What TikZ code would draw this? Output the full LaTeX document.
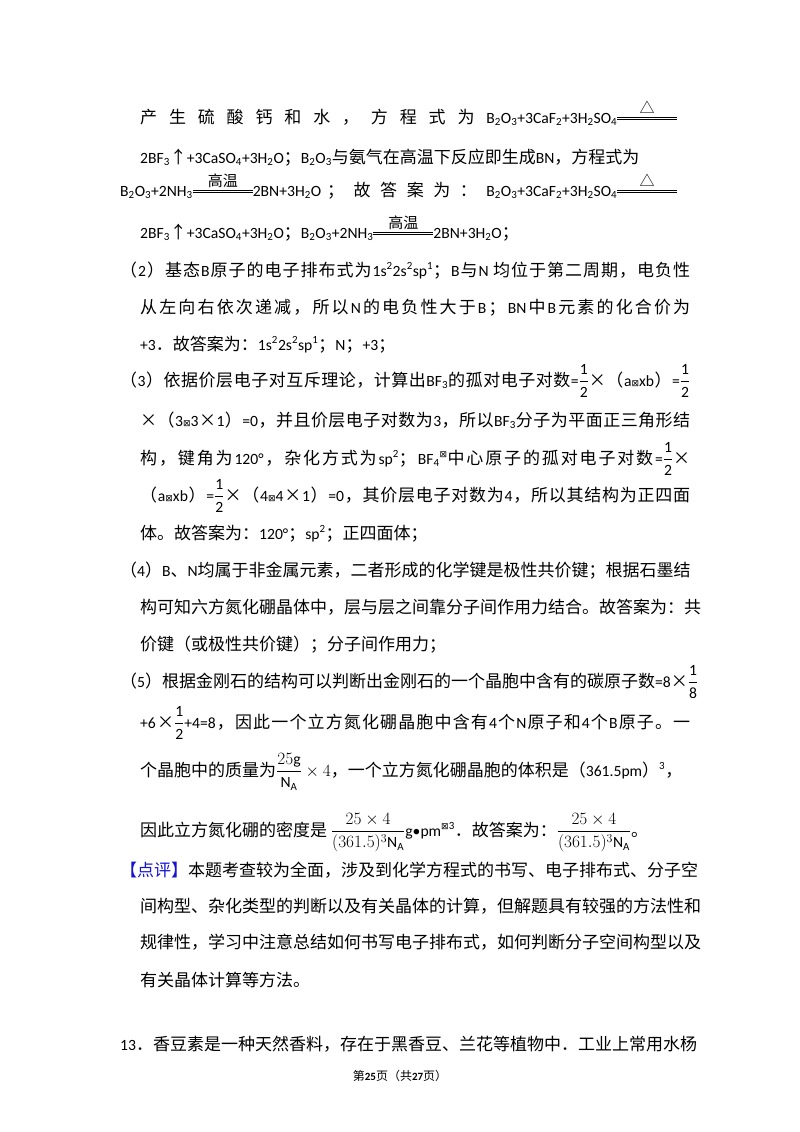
\documentclass[tikz,border=0pt]{standalone}
\usepackage{amsmath}
\usepackage{fontspec}
\setmainfont{Carlito}[Scale=0.92]
\newfontfamily\cjkf{Noto Sans CJK SC}
\newfontfamily\dvf{DejaVu Sans}
\newXeTeXintercharclass\cjkcls
\newXeTeXintercharclass\symcls
\newcount\cc
\newcommand\setcls[2]{\cc=#1 \loop\XeTeXcharclass\cc=\cjkcls \ifnum\cc<#2 \advance\cc by 1 \repeat}
\setcls{"3000}{"303F}
\setcls{"4E00}{"9FFF}
\setcls{"FF00}{"FFEF}
\XeTeXcharclass"00D7=\cjkcls
\XeTeXcharclass"2191=\cjkcls
\XeTeXcharclass"25B3=\cjkcls
\XeTeXcharclass"22A0=\symcls
\XeTeXinterchartoks 0 \cjkcls={\hskip0pt plus 2pt\cjkf}
\XeTeXinterchartoks 4095 \cjkcls={\cjkf}
\XeTeXinterchartoks \cjkcls \cjkcls={\hskip0pt plus 2pt}
\XeTeXinterchartoks \cjkcls 0={\hskip0pt plus 2pt\rmfamily}
\XeTeXinterchartoks 4095 0={\rmfamily}
\XeTeXinterchartokenstate=1
\newcommand\s[1]{\textsubscript{#1}}
\newcommand\su[1]{\textsuperscript{#1}}
\newcommand\bx{{\dvf\fontsize{9}{9}\selectfont ⊠}}
\newcommand\dbl[1]{\raisebox{3pt}{\vbox{\hrule width #1 height .8pt\vskip1.6pt\hrule width #1 height .8pt}}}
\newcommand\condeq[2]{$\overset{\text{\fontsize{15}{15}\selectfont #1}}{\dbl{#2}}$}
\newcommand\hf[2]{$\dfrac{\text{#1}}{\text{#2}}$}
\newcommand\JA[1]{\makebox[550pt][s]{#1}}
\newcommand\JB[1]{\makebox[570pt][s]{#1}}
\definecolor{dpblue}{RGB}{20,20,210}
\begin{document}
\begin{tikzpicture}[x=1pt,y=-1pt,
  L/.style={anchor=base west,inner sep=0,font=\fontsize{17}{20}\selectfont}]
\useasboundingbox[fill=white] (0,0) rectangle (800,1132);
\node[L] (l1) at (140,123) {\makebox[537pt][s]{产 生 硫 酸 钙 和 水 ， 方 程 式 为 B\s2O\s3+3CaF\s2+3H\s2SO\s4\condeq{△}{60pt}}};
\node[L] (l2) at (140,163) {2BF\s3↑+3CaSO\s4+3H\s2O；B\s2O\s3与氨气在高温下反应即生成BN，方程式为};
\node[L] (l3) at (120,196) {\makebox[557pt][s]{B\s2O\s3+2NH\s3\condeq{高温}{60pt}2BN+3H\s2O； 故 答 案 为 ： B\s2O\s3+3CaF\s2+3H\s2SO\s4\condeq{△}{60pt}}};
\node[L] (l4) at (140,238) {2BF\s3↑+3CaSO\s4+3H\s2O；B\s2O\s3+2NH\s3\condeq{高温}{60pt}2BN+3H\s2O；};
\node[L] (l5) at (120,276) {\JB{（2）基态B原子的电子排布式为1s\su2{}2s\su2sp\su1；B与N 均位于第二周期，电负性}};
\node[L] (l6) at (140,313) {\JA{从左向右依次递减，所以N的电负性大于B；BN中B元素的化合价为}};
\node[L] (l7) at (140,350) {+3．故答案为：1s\su2{}2s\su2sp\su1；N；+3；};
\node[L] (l8) at (120,386) {\JB{（3）依据价层电子对互斥理论，计算出BF\s3的孤对电子对数=\hf12×（a\bx xb）=\hf12}};
\node[L] (l9) at (140,426) {\JA{×（3\bx3×1）=0，并且价层电子对数为3，所以BF\s3分子为平面正三角形结}};
\node[L] (l10) at (140,464) {\JA{构，键角为120°，杂化方式为sp\su2；BF\s4\su{\bx}中心原子的孤对电子对数=\hf12×}};
\node[L] (l11) at (140,501) {\JA{（a\bx xb）=\hf12×（4\bx4×1）=0，其价层电子对数为4，所以其结构为正四面}};
\node[L] (l12) at (140,539) {体。故答案为：120°；sp\su2；正四面体；};
\node[L] (l13) at (120,576) {\JB{（4）B、N均属于非金属元素，二者形成的化学键是极性共价键；根据石墨结}};
\node[L] (l14) at (140,613) {\JA{构可知六方氮化硼晶体中，层与层之间靠分子间作用力结合。故答案为：共}};
\node[L] (l15) at (140,650) {价键（或极性共价键）；分子间作用力；};
\node[L] (l16) at (120,687) {\JB{（5）根据金刚石的结构可以判断出金刚石的一个晶胞中含有的碳原子数=8×\hf18}};
\node[L] (l17) at (140,728) {\JA{+6×\hf12+4=8，因此一个立方氮化硼晶胞中含有4个N原子和4个B原子。一}};
\node[L] (l18) at (140,776) {个晶胞中的质量为$\dfrac{25\mathrm{g}}{\mathrm{N_A}}\times4$，一个立方氮化硼晶胞的体积是（361.5pm）\su3，};
\node[L] (l19) at (140,836) {因此立方氮化硼的密度是 $\dfrac{25\times4}{(361.5)^3\mathrm{N_A}}$g•pm\su{\bx3}．故答案为：$\dfrac{25\times4}{(361.5)^3\mathrm{N_A}}$。};
\node[L] (l20) at (120,876) {\JB{\textcolor{dpblue}{【点评】}本题考查较为全面，涉及到化学方程式的书写、电子排布式、分子空}};
\node[L] (l21) at (140,912) {\JA{间构型、杂化类型的判断以及有关晶体的计算，但解题具有较强的方法性和}};
\node[L] (l22) at (140,948) {\JA{规律性，学习中注意总结如何书写电子排布式，如何判断分子空间构型以及}};
\node[L] (l23) at (140,986) {有关晶体计算等方法。};
\node[L] (l24) at (120,1050) {\JB{13．香豆素是一种天然香料，存在于黑香豆、兰花等植物中．工业上常用水杨}};
\node[anchor=base,inner sep=0,font=\fontsize{12}{14}\selectfont] (ft) at (400,1080) {第\textbf{25}页（共\textbf{27}页）};
\end{tikzpicture}
\end{document}
